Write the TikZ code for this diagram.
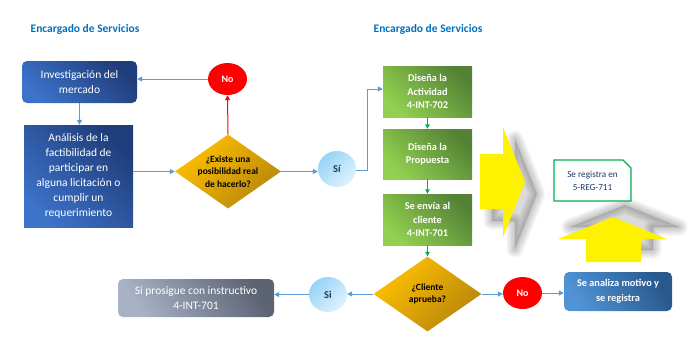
\documentclass[tikz,border=0pt]{standalone}
\usepackage{fontspec}
\setmainfont{Carlito}
\usetikzlibrary{arrows.meta,shapes.geometric,shapes.misc}
\definecolor{titleblue}{RGB}{0,112,192}
\definecolor{connblue}{RGB}{91,155,213}
\definecolor{navy}{RGB}{31,56,100}
\definecolor{bluedark}{RGB}{31,61,122}
\definecolor{bluelight}{RGB}{60,114,200}
\definecolor{greendark}{RGB}{84,130,53}
\definecolor{greenlight}{RGB}{146,208,80}
\definecolor{golddark}{RGB}{184,134,11}
\definecolor{goldlight}{RGB}{255,192,0}
\definecolor{skylight}{RGB}{224,242,253}
\definecolor{skydark}{RGB}{150,212,246}
\definecolor{graylight}{RGB}{168,178,197}
\definecolor{graydark}{RGB}{92,100,116}
\definecolor{midbluelight}{RGB}{80,148,214}
\definecolor{midbluedark}{RGB}{40,88,140}
\definecolor{notegreen}{RGB}{0,176,80}
\definecolor{arrowgreen}{RGB}{0,176,80}
\tikzset{
  titletext/.style={text=titleblue,font=\fontsize{11.5}{14}\selectfont\bfseries},
  bluebox/.style={top color=bluedark,bottom color=bluelight,shading angle=-45,
    text=white,align=center,inner sep=0pt,font=\fontsize{11.5}{15}\selectfont},
  greenbox/.style={top color=greendark,bottom color=greenlight,shading angle=-45,
    text=white,align=center,inner sep=0pt,minimum width=89,
    font=\fontsize{10.3}{13.5}\selectfont\bfseries},
  decision/.style={diamond,top color=goldlight,bottom color=golddark,shading angle=45,
    text=black,align=center,inner sep=0pt,
    font=\fontsize{9.5}{12.5}\selectfont\bfseries},
  redno/.style={ellipse,fill=red,text=white,inner sep=0pt,minimum width=39,minimum height=32,
    font=\fontsize{10}{12}\selectfont\bfseries},
  yescirc/.style={ellipse,top color=skydark,bottom color=skylight,shading angle=45,
    text=navy,inner sep=0pt,font=\fontsize{10.5}{12}\selectfont\bfseries},
  conn/.style={connblue,line width=1pt,-{Triangle[length=5pt,width=5pt]}},
  redconn/.style={red,line width=1pt,-{Triangle[length=5pt,width=5pt]}},
  greenconn/.style={arrowgreen,line width=1pt,-{Triangle[length=4.5pt,width=4.5pt]}},
  bigarrow/.style={fill=yellow},
  softshadow/.style={draw=black,fill=black,line join=round,draw opacity=0.04,fill opacity=0.025},
}
\newcommand{\rightarrowpath}{(480,154) -- (503,154) -- (503,127) -- (525,182) -- (503,237) -- (503,209) -- (480,209) -- cycle}
\newcommand{\uparrowpath}{(586,262) -- (586,239) -- (558,239) -- (613,217) -- (667,239) -- (641,239) -- (641,262) -- cycle}
\begin{document}
\begin{tikzpicture}[x=1pt,y=-1pt]
\useasboundingbox (0,0) rectangle (700,354);
\fill[white] (0,0) rectangle (700,354);

% titles
\node[titletext] (t1) at (85,29) {Encargado de Servicios};
\node[titletext] (t2) at (428,29) {Encargado de Servicios};

% left column
\node[bluebox,rounded corners=5pt,minimum width=115,minimum height=42] (inv) at (79.5,82)
  {Investigación del\\mercado};
\node[bluebox,minimum width=109,minimum height=102] (ana) at (78.5,176)
  {Análisis de la\\factibilidad de\\participar en\\alguna licitación o\\cumplir un\\requerimiento};

% decision 1
\node[decision,minimum width=106,minimum height=74,aspect=1.43] (d1) at (228,171.5)
  {¿Existe una\\posibilidad real\\de hacerlo?};
\node[redno] (no1) at (227.5,79) {No};
\node[yescirc,minimum width=38,minimum height=36] (si1) at (337,169) {Sí};

% green column
\node[greenbox,minimum height=51] (g1) at (427.5,91.5) {Diseña la\\Actividad\\4-INT-702};
\node[greenbox,minimum height=50] (g2) at (427.5,154) {Diseña la\\Propuesta};
\node[greenbox,minimum height=51] (g3) at (427.5,219.5) {Se envía al\\cliente\\4-INT-701};

% decision 2
\node[decision,minimum width=108,minimum height=75,aspect=1.44] (d2) at (427.5,294)
  {¿Cliente\\aprueba?};
\node[redno] (no2) at (522.5,293) {No};
\node[yescirc,minimum width=38,minimum height=35] (si2) at (328,294.5) {Si};

\node[rounded corners=5pt,top color=graydark,bottom color=graylight,shading angle=-60,
  text=white,align=center,inner sep=0pt,minimum width=156,minimum height=38,
  font=\fontsize{11.5}{15}\selectfont] (prog) at (196,298)
  {Si prosigue con instructivo\\4-INT-701};
\node[rounded corners=5pt,top color=midbluedark,bottom color=midbluelight,shading angle=-60,
  text=white,align=center,inner sep=0pt,minimum width=108,minimum height=39,
  font=\fontsize{10.3}{15}\selectfont\bfseries] (anal) at (618,291.5)
  {Se analiza motivo y\\se registra};

% soft shadows of the yellow arrows
\begin{scope}[shift={(12,12)}]
  \foreach \w in {2,5,8,11,14,17}
    \path[softshadow,line width=\w pt] \rightarrowpath;
\end{scope}
\begin{scope}[shift={(12,-12)}]
  \foreach \w in {2,5,8,11,14,17}
    \path[softshadow,line width=\w pt] \uparrowpath;
\end{scope}
% yellow arrows
\fill[bigarrow] \rightarrowpath;
\fill[bigarrow] \uparrowpath;

% note
\node[chamfered rectangle,chamfered rectangle corners=north east,chamfered rectangle xsep=4pt,
  chamfered rectangle ysep=4pt,draw=notegreen,line width=1.2pt,fill=white,
  text=navy,align=center,inner sep=0pt,minimum width=77,minimum height=41,
  font=\fontsize{9.2}{13}\selectfont] (note) at (592.5,180.5) {Se registra en\\5-REG-711};

% connectors
\draw[conn] (inv.south) -- (inv.south |- ana.north);
\draw[conn] (ana.east |- d1.west) -- (d1.west);
\draw[redconn] (d1.north) -- (no1.south);
\draw[conn] (no1.west) -- (no1.west -| inv.east);
\draw[conn] (d1.east) -- (d1.east -| si1.west);
\coordinate (bend) at (367,170);
\draw[conn] (si1.east |- bend) -- (bend) |- (g1.west |- 0,89) ;
\draw[greenconn] (g1.south) -- (g2.north);
\draw[greenconn] (g2.south) -- (g3.north);
\draw[greenconn] (g3.south) -- (d2.north);
\draw[conn] (d2.east) -- (d2.east -| no2.west);
\draw[conn] (no2.east) -- (no2.east -| anal.west);
\draw[conn] (d2.west) -- (d2.west -| si2.east);
\draw[conn] (si2.west) -- (si2.west -| prog.east);
\end{tikzpicture}
\end{document}
